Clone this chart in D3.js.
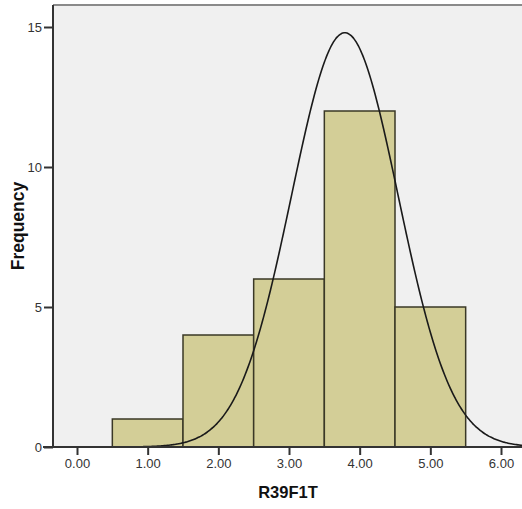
<!DOCTYPE html>
<html>
<head>
<meta charset="utf-8">
<script src="https://cdn.jsdelivr.net/npm/d3@7"></script>
<style>
  html, body { margin: 0; padding: 0; background: #ffffff; }
  svg { display: block; font-family: "Liberation Sans", Arial, sans-serif; }
</style>
</head>
<body>
<svg id="chart" width="522" height="509"></svg>
<script>
// Histogram of R39F1T with fitted normal curve
const binCenters = [1, 2, 3, 4, 5];
const binCounts = [1, 4, 6, 12, 5];
const binWidth = 1;
const xTicks = [0, 1, 2, 3, 4, 5, 6];
const yTicks = [0, 5, 10, 15];
const fitMean = 3.79;
const fitSd = 0.755;
const fitN = 28;

const svg = d3.select("#chart");
const W = 522, H = 509;

const x = d3.scaleLinear().domain([0, 6]).range([77, 501]);
const y = d3.scaleLinear().domain([0, 15]).range([447, 27]);

const plotLeft = 53, plotTop = 5, plotRight = 530, plotBottom = 447;

// plot background
svg.append("rect")
  .attr("x", plotLeft).attr("y", plotTop)
  .attr("width", plotRight - plotLeft).attr("height", plotBottom - plotTop)
  .attr("fill", "#f0f0f0");

// top frame line
svg.append("line")
  .attr("x1", plotLeft).attr("x2", plotRight)
  .attr("y1", plotTop).attr("y2", plotTop)
  .attr("stroke", "#8a8a8a").attr("stroke-width", 2);

// bars
svg.append("g").selectAll("rect")
  .data(binCenters.map((c, i) => ({ c, n: binCounts[i] })))
  .join("rect")
  .attr("x", d => x(d.c - binWidth / 2))
  .attr("y", d => y(d.n))
  .attr("width", d => x(d.c + binWidth / 2) - x(d.c - binWidth / 2))
  .attr("height", d => y(0) - y(d.n))
  .attr("fill", "#d3ce97")
  .attr("stroke", "#3a3826")
  .attr("stroke-width", 1.5);

// normal curve
const curvePts = d3.range(-0.4, 6.4001, 0.02).map(v => [
  v,
  fitN * binWidth / (fitSd * Math.sqrt(2 * Math.PI)) *
    Math.exp(-((v - fitMean) ** 2) / (2 * fitSd * fitSd))
]);
svg.append("path")
  .datum(curvePts)
  .attr("fill", "none")
  .attr("stroke", "#1a1a1a")
  .attr("stroke-width", 1.6)
  .attr("d", d3.line().x(d => x(d[0])).y(d => y(d[1])).curve(d3.curveBasis));

// cover curve overflow left of the axis
svg.append("rect")
  .attr("x", 0).attr("y", 0).attr("width", plotLeft).attr("height", H)
  .attr("fill", "#ffffff");

// axes
const yAxis = d3.axisLeft(y).tickValues(yTicks).tickSize(9).tickPadding(2)
  .tickFormat(d3.format("d"));
const gy = svg.append("g").attr("transform", `translate(${plotLeft},0)`).call(yAxis);
gy.select(".domain").attr("d", `M0,${plotTop}V${plotBottom}`)
  .attr("stroke", "#333").attr("stroke-width", 2);

const xAxis = d3.axisBottom(x).tickValues(xTicks).tickSize(8).tickPadding(4)
  .tickFormat(d3.format(".2f"));
const gx = svg.append("g").attr("transform", `translate(0,${plotBottom})`).call(xAxis);
gx.select(".domain").attr("d", `M${plotLeft - 10},0H${plotRight}`)
  .attr("stroke", "#333").attr("stroke-width", 2);

[gx, gy].forEach(g => {
  g.selectAll(".tick line").attr("stroke", "#333").attr("stroke-width", 2);
  g.selectAll(".tick text")
    .attr("fill", "#333")
    .style("font-size", "13px")
    .style("font-family", "'Liberation Sans', Arial, sans-serif");
});

// axis titles
svg.append("text")
  .attr("x", 288).attr("y", 498)
  .attr("text-anchor", "middle")
  .attr("fill", "#111")
  .style("font-size", "16.5px").style("font-weight", "bold")
  .text("R39F1T");

svg.append("text")
  .attr("transform", "translate(24,226) rotate(-90)")
  .attr("text-anchor", "middle")
  .attr("fill", "#111")
  .style("font-size", "17.5px").style("font-weight", "bold")
  .text("Frequency");
</script>
</body>
</html>
